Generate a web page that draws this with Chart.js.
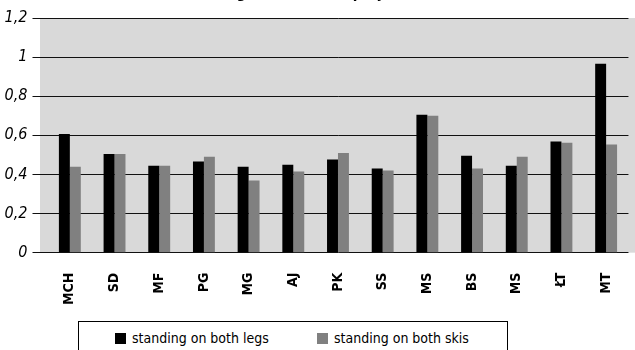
<!DOCTYPE html>
<html>
<head>
<meta charset="utf-8">
<script src="https://cdn.jsdelivr.net/npm/chart.js@4"></script>
<style>
  html, body { margin: 0; padding: 0; background: #fff; overflow: hidden; }
  #wrap { position: relative; width: 635px; height: 350px; overflow: hidden; }
  #box { position: absolute; left: 0; top: -15px; width: 635px; height: 365px; }
  #legend {
    position: absolute; left: 78px; top: 321px; width: 428px; height: 40px;
    border: 1px solid #000; background: #fff;
    font-family: "Liberation Sans Narrow", "DejaVu Sans Condensed", sans-serif;
    font-size: 14px; color: #000;
  }
  #legend span.item { position: absolute; top: 8px; white-space: nowrap; }
  #legend i { display: inline-block; width: 11px; height: 11px; margin-right: 6px; vertical-align: -1px; }
</style>
</head>
<body>
<div id="wrap">
  <div id="box"><canvas id="myBarChart" width="635" height="365"></canvas></div>
  <div id="legend"></div>
</div>
<script>
// Chart data
const categories = ['MCH', 'SD', 'MF', 'PG', 'MG', 'AJ', 'PK', 'SS', 'MS', 'BS', 'MS', 'ŁT', 'MT'];
const bothLegs = [0.607, 0.505, 0.445, 0.466, 0.44, 0.45, 0.476, 0.43, 0.705, 0.496, 0.445, 0.568, 0.966];
const bothSkis = [0.44, 0.505, 0.445, 0.491, 0.369, 0.415, 0.51, 0.42, 0.70, 0.43, 0.49, 0.562, 0.553];
const seriesNames = ['standing on both legs', 'standing on both skis'];
const seriesColors = ['#000000', '#808080'];
const yTickLabels = ['0', '0,2', '0,4', '0,6', '0,8', '1', '1,2'];

const fontFamily = '"Liberation Sans Narrow", "DejaVu Sans Condensed", sans-serif';

// gray plot background, reaching a bit left of the first category
const plotBackground = {
  id: 'plotBackground',
  beforeDraw(chart) {
    const a = chart.chartArea;
    const ctx = chart.ctx;
    ctx.save();
    ctx.fillStyle = '#d9d9d9';
    ctx.fillRect(a.left - 7.5, a.top, chart.width - a.left + 7.5, a.bottom - a.top);
    ctx.restore();
  }
};

const data = {
  labels: categories,
  datasets: [
    { label: seriesNames[0], data: bothLegs, backgroundColor: seriesColors[0] },
    { label: seriesNames[1], data: bothSkis, backgroundColor: seriesColors[1] }
  ]
};

const options = {
  responsive: false,
  animation: false,
  layout: { padding: { top: 0, right: 2, left: 0, bottom: 33 } },
  datasets: { bar: { categoryPercentage: 0.49, barPercentage: 1.0 } },
  plugins: {
    legend: { display: false },
    tooltip: { enabled: false },
    title: {
      display: true,
      text: 'Total length of the COP projection [m]',
      color: '#000',
      font: { family: fontFamily, size: 15, weight: 'bold' },
      padding: { top: 0, bottom: 15 }
    }
  },
  scales: {
    x: {
      grid: { display: false },
      border: { display: false },
      ticks: {
        color: '#000',
        maxRotation: 90,
        minRotation: 90,
        padding: 12,
        font: { family: fontFamily, size: 14, weight: 'bold' }
      }
    },
    y: {
      min: 0,
      max: 1.2,
      border: { display: false },
      grid: { color: '#111', lineWidth: 1, tickLength: 15, tickColor: '#111' },
      afterFit(scale) { scale.width = 47.5; },
      ticks: {
        stepSize: 0.2,
        color: '#000',
        padding: 5,
        font: { family: fontFamily, size: 16, style: 'italic' },
        callback: (value, index) => yTickLabels[index]
      }
    }
  }
};

const ctx = document.getElementById('myBarChart').getContext('2d');
const myBarChart = new Chart(ctx, {
  type: 'bar',
  data: data,
  options: options,
  plugins: [plotBackground]
});

// legend box
const legend = document.getElementById('legend');
const legendX = [36, 238];
seriesNames.forEach((name, i) => {
  const item = document.createElement('span');
  item.className = 'item';
  item.style.left = legendX[i] + 'px';
  item.innerHTML = '<i style="background:' + seriesColors[i] + '"></i>' + name;
  legend.appendChild(item);
});
</script>
</body>
</html>
